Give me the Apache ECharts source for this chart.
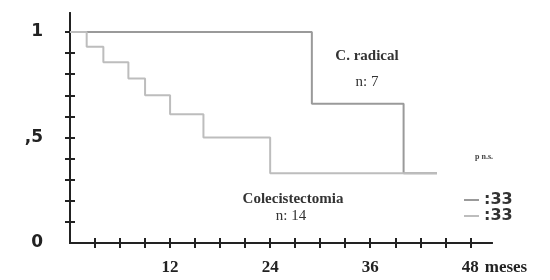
<!DOCTYPE html>
<html>
<head>
<meta charset="utf-8">
<script src="https://cdn.jsdelivr.net/npm/echarts@6/dist/echarts.min.js"></script>
<style>
  html, body { margin: 0; padding: 0; background: #fff; }
  #chart { width: 550px; height: 280px; }
</style>
</head>
<body>
<div id="chart"></div>
<script>
// meses / supervivencia
const radicalMonths = [0, 29, 40, 44]
const radicalValues = [1, 0.66, 0.33, 0.33]
const coleMonths = [0, 2, 4, 7, 9, 12, 16, 24, 44]
const coleValues = [1, 0.93, 0.857, 0.78, 0.70, 0.61, 0.5, 0.33, 0.33]

const xTicks = [3, 6, 9, 12, 15, 18, 21, 24, 27, 30, 33, 36, 39, 42, 45, 48]
const xLabels = [12, 24, 36, 48]
const yTicks = [0.1, 0.2, 0.3, 0.4, 0.5, 0.6, 0.7, 0.8, 0.9, 1]
const yLabels = [0, 0.5, 1]
const legendText = ':33'

const serif = 'Liberation Serif'
const chart = echarts.init(document.getElementById('chart'))

const pair = (xs, ys) => xs.map((x, i) => [x, ys[i]])

function xAxisBase(inside) {
  return {
    type: 'value', min: 0, max: 50.6, position: 'bottom',
    splitLine: { show: false },
    axisLine: { show: true, onZero: false, lineStyle: { color: '#222', width: 2 } },
    axisTick: { show: true, inside: inside, length: 5, customValues: xTicks,
                lineStyle: { color: '#222', width: 2 } },
    axisLabel: inside ? { show: false } : {
      customValues: xLabels, margin: 16,
      fontFamily: serif, fontWeight: 'bold', fontSize: 17, color: '#222'
    }
  }
}

function yAxisBase(inside) {
  return {
    type: 'value', min: 0, max: 1.09, position: 'left',
    splitLine: { show: false },
    axisLine: { show: true, lineStyle: { color: '#222', width: 2 } },
    axisTick: { show: true, inside: inside, length: 5, customValues: yTicks,
                lineStyle: { color: '#222', width: 2 } },
    axisLabel: inside ? { show: false } : {
      customValues: yLabels, margin: 27,
      formatter: v => v === 0.5 ? ',5' : String(v),
      fontFamily: 'DejaVu Sans', fontWeight: 'bold', fontSize: 17, color: '#222'
    }
  }
}

const xMain = xAxisBase(false)
xMain.name = 'meses'
xMain.nameLocation = 'end'
xMain.nameGap = -20
xMain.nameTextStyle = { fontFamily: serif, fontWeight: 'bold', fontSize: 17, color: '#222',
                        align: 'left', verticalAlign: 'top', padding: [16, 0, 0, 0] }

const noteStyle = { fontFamily: serif, fontSize: 15, fontWeight: 'bold', color: '#333' }

chart.setOption({
  animation: false,
  backgroundColor: '#ffffff',
  grid: { left: 70, right: 58, top: 13, bottom: 37 },
  title: [
    { text: 'C. radical', left: 362, top: 44, textAlign: 'center', textStyle: noteStyle },
    { text: 'n: 7', left: 362, top: 70, textAlign: 'center',
      textStyle: Object.assign({}, noteStyle, { fontWeight: 'normal' }) },
    { text: 'Colecistectomia', left: 288, top: 187, textAlign: 'center', textStyle: noteStyle },
    { text: 'n: 14', left: 286, top: 204, textAlign: 'center',
      textStyle: Object.assign({}, noteStyle, { fontWeight: 'normal' }) },
    { text: 'p n.s.', left: 470, top: 148,
      textStyle: { fontFamily: serif, fontSize: 8, fontWeight: 'bold', color: '#444' } }
  ],
  legend: {
    orient: 'vertical', left: 459, top: 187, itemGap: 0,
    itemWidth: 15, itemHeight: 2, icon: 'rect',
    formatter: () => legendText,
    textStyle: { fontFamily: 'DejaVu Sans', fontWeight: 'bold', fontSize: 16, color: '#333',
                 lineHeight: 15 }
  },
  xAxis: [xMain, xAxisBase(true)],
  yAxis: [yAxisBase(false), yAxisBase(true)],
  series: [
    { name: 'C. radical', type: 'line', step: 'end', showSymbol: false,
      data: pair(radicalMonths, radicalValues),
      lineStyle: { color: '#9a9a9a', width: 2 }, itemStyle: { color: '#9a9a9a' } },
    { name: 'Colecistectomia', type: 'line', step: 'end', showSymbol: false,
      data: pair(coleMonths, coleValues),
      lineStyle: { color: '#bdbdbd', width: 2 }, itemStyle: { color: '#bdbdbd' } }
  ]
})
</script>
</body>
</html>
